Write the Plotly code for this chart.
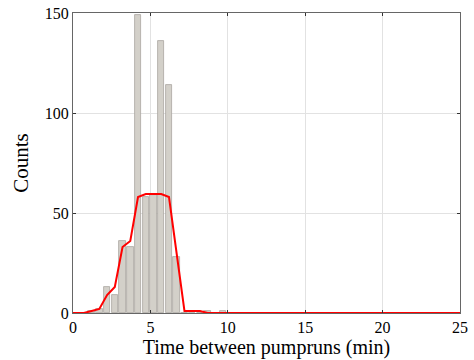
import plotly.graph_objects as go

bin_centers = [1.2, 1.7, 2.2, 2.7, 3.2, 3.7, 4.2, 4.7, 5.2, 5.7, 6.2, 6.7, 7.2, 7.7, 8.2, 8.7, 9.2, 9.7]
counts = [1, 2, 13, 9, 36, 33, 149, 58, 59, 136, 114, 28, 0, 1, 0, 1, 0, 1]

fit_x = [0, 0.7, 1.2, 1.7, 2.2, 2.7, 3.2, 3.7, 4.2, 4.7, 5.2, 5.7, 6.2, 6.7, 7.2, 7.7, 8.2, 8.7, 25]
fit_y = [0, 0, 1, 2, 9, 13, 33, 36, 58, 59.5, 59.5, 59.5, 58, 29, 1, 1, 1, 0, 0]

x_ticks = [0, 5, 10, 15, 20, 25]
y_ticks = [0, 50, 100, 150]

fig = go.Figure()
fig.add_trace(go.Bar(x=bin_centers, y=counts, width=0.42,
                     marker=dict(color="#d3d0c9", line=dict(color="#a9a6a0", width=0.8)),
                     showlegend=False))
fig.add_trace(go.Scatter(x=fit_x, y=fit_y, mode="lines",
                         line=dict(color="#ff0000", width=2), showlegend=False))

font = "Liberation Serif, Times New Roman, serif"
fig.update_layout(
    width=474, height=360,
    margin=dict(l=73, r=14, t=13, b=47),
    plot_bgcolor="white", paper_bgcolor="white",
    font=dict(family=font, color="black", size=16),
    bargap=0,
)
fig.update_xaxes(range=[0, 25], tickvals=x_ticks, showgrid=True, gridcolor="#e2e2e2",
                 showline=True, linecolor="#666", linewidth=1, mirror="ticks",
                 ticks="inside", ticklen=3, tickcolor="#333", zeroline=False,
                 automargin=False,
                 tickfont=dict(size=16, family=font),
                 title=dict(text="Time between pumpruns (min)", font=dict(size=20, family=font), standoff=3))
fig.update_yaxes(range=[0, 150], tickvals=y_ticks, showgrid=True, gridcolor="#e2e2e2",
                 showline=True, linecolor="#666", linewidth=1, mirror="ticks",
                 ticks="inside", ticklen=3, tickcolor="#333", zeroline=False,
                 automargin=False,
                 tickfont=dict(size=16, family=font),
                 title=dict(text="Counts", font=dict(size=21, family=font), standoff=10))

fig.write_html("out.html")
